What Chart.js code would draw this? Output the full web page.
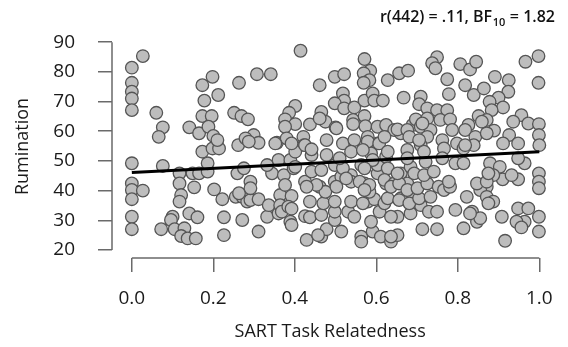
<!DOCTYPE html>
<html>
<head>
<meta charset="utf-8">
<script src="https://cdn.jsdelivr.net/npm/chart.js@4.4.0/dist/chart.umd.min.js"></script>
<style>
html,body{margin:0;padding:0;background:#fff;}
#c{display:block;}
</style>
</head>
<body>
<canvas id="c" width="568" height="347"></canvas>
<script>
// SART task relatedness (x) and rumination (y) for each participant
const relatedness = [
 0,0,0,0,0,0.027,0,0,0,0.027,0,0,0,
 0.076,0.117,0.117,0.153,0.121,0.117,0.141,0.161,0.1,0.096,0.072,0.105,0.129,0.121,0.137,0.157,0.149,0.165,0.186,0.186,0.173,0.198,0.214,0.202,0.222,0.226,0.226,0.255,0.271,0.271,0.259,0.261,0.283,0.06,0.076,0.066,0.141,0.165,0.173,0.198,0.178,0.212,0.173,0.196,0.188,0.2,0.21,0.251,0.263,0.269,0.275,0.263,
 0.414,0.307,0.341,0.461,0.498,0.521,0.571,0.585,0.569,0.583,0.569,0.628,0.518,0.521,0.498,0.521,0.546,0.571,0.591,0.595,0.616,0.401,0.386,0.376,0.401,0.376,0.437,0.465,0.475,0.461,0.5,0.543,0.571,0.573,0.603,0.624,0.285,0.299,0.279,0.311,0.356,0.38,0.421,0.423,0.478,0.518,0.546,0.579,0.603,0.287,0.352,
 0.311,0.429,0.465,0.478,0.514,0.563,0.563,0.591,0.611,0.587,0.332,0.36,0.389,0.392,0.425,0.437,0.465,0.498,0.498,0.531,0.546,0.608,0.437,0.47,0.498,0.538,0.579,0.595,0.62,0.291,0.311,0.336,0.364,0.392,0.364,0.368,0.384,0.291,0.291,0.344,0.373,0.376,0.425,0.441,0.461,0.475,0.498,0.514,0.538,0.538,0.571,0.583,0.603,0.624,0.332,0.36,0.389,0.401,0.425,0.397,0.441,0.478,0.498,0.518,0.538,0.563,0.587,0.603,0.624,0.579,0.607,
 0.502,0.543,0.644,0.672,0.689,0.62,0.66,0.392,0.441,0.567,0.628,0.676,0.51,0.591,0.401,0.465,0.571,0.628,0.66,0.684,0.453,0.526,0.559,0.583,0.62,0.644,0.676,
 0.429,0.502,0.571,0.628,0.66,0.684,0.567,0.392,0.652,0.457,0.636,0.652,
 0.749,0.737,0.745,0.806,0.83,0.845,0.966,0.998,0.998,0.656,0.678,0.667,0.774,0.778,0.818,0.839,0.864,0.891,0.925,0.924,0.9,0.878,0.911,0.883,0.709,0.705,0.725,0.749,0.774,0.697,0.725,0.757,0.781,0.826,0.851,0.871,0.956,0.936,0.973,0.999,0.999,0.652,0.676,0.709,0.733,0.786,0.818,0.843,0.889,0.926,0.681,0.725,0.762,0.798,0.839,0.911,0.948,0.709,
 1.0,0.964,0.948,0.879,0.903,0.91,0.948,0.999,0.999,0.999,0.887,0.871,0.855,0.871,0.887,0.822,0.794,0.835,0.847,0.855,0.814,0.908,0.916,0.948,0.973,0.964,0.944,0.956,0.999,0.999,0.713,0.749,0.636,0.636,0.684,0.709,0.729,0.749,0.656,0.681,0.705,0.733,0.636,0.656,0.676,0.701,0.725,0.753,0.766,0.781,0.652,0.693,0.717,0.741,0.676,0.721,0.794,0.814,0.717,0.766,0.814,
 0.713,0.859,0.705,0.818,0.871,0.762,0.778,0.847,0.871,0.875,0.932,0.83,0.875
];
const rumination = [
 81.4,76.3,73.3,71,67.1,85.3,49.2,42.4,40.2,40,37.1,31.2,27,
 48.3,45.8,42.4,41.1,38.5,36.3,32.3,31,31.2,30.1,27,27,27.3,24.7,23.9,23.9,45.8,45.8,46.4,49.2,53.1,54.2,54.2,40.4,37.1,31,25,37.9,37.9,30.1,45.8,55.3,36.3,66.2,61.3,58.1,61.3,59.3,75.5,78.3,70.3,72.2,65.1,65.1,61.5,58.4,57,66.2,76.3,65.1,47.5,39.1,
 87.1,79.2,79.2,75.5,78.3,79.2,84.3,80.4,79.5,77.2,76.3,77.2,72.7,70.3,69.4,67.7,68,70.3,72.7,70.3,70.3,68.5,66.2,64,62.4,61.5,62.3,66.5,63.2,64.3,61.3,63.8,65.1,61.7,61.5,62.1,64,58.7,57.6,56.1,56.1,57.6,58.1,55.3,57,55.9,57,58.1,55.9,56.5,55.9,
 26.2,23.4,24.5,27,26.2,24.5,22.8,26.2,24.5,29.5,31.2,32.3,29.5,28.4,31.4,31,31.8,30.1,32.9,32.9,31.2,32.9,36.3,35.7,36.3,36.3,36.3,37.1,35.7,36.8,37.1,35.1,38.5,38.2,35.1,32.9,34.6,43,40.8,45.8,45.2,41.9,43,46.4,41.3,39.6,43,44.7,45.2,43,42.4,39.6,45.8,42.4,48.6,50.3,50.3,53.1,55.3,47.5,52,52,48.6,47.5,53.1,48.6,52.5,48.6,51.4,56.5,55.9,
 61,62.4,60.4,59.8,62.1,58.1,59.3,55.9,53.9,53.7,53.1,53.7,50.9,50.3,48,46.9,47.5,47.5,45.8,48,41.9,44.1,43,41.9,43.6,42.4,42.4,
 41.3,41.3,40.2,37.4,37.4,39.6,35.7,33.9,31.2,25,22.8,25,
 84.9,82.9,81.2,82.6,80.8,83.4,83.4,85.3,76.3,79.5,80.4,71.3,77.5,72.5,75.5,72.2,74.4,78.3,77.2,73.3,71.3,69.9,68,67.1,71.6,69.1,67.7,67.1,67.1,64,64.3,63.8,64,62.1,65.1,63.8,65.4,63.2,62.6,62.4,58.7,60.6,60.4,61.5,60.4,60.4,60.4,58.1,60.2,58.7,58.1,58.1,57,55.9,55.3,55.9,55.9,55.3,
 55.3,49.2,50.9,49.2,48,43.8,43.8,45.8,43,40.8,45.2,41.3,40.2,37.9,36.3,37.9,33.5,32.9,29.5,30.7,27.3,31.2,23.1,34,34,29.5,29.5,27.6,31.2,26.2,27,27,24.5,31.2,32.3,35.1,32.9,32.9,36.8,35.7,37.4,37.9,41.3,42.4,40.2,40.8,42.4,41.3,40.2,41.3,45.8,45.8,45.2,46.4,50.9,49.7,49.2,49.2,53.1,54.2,54.2,
 62.6,63.2,57,55.3,59.3,50.9,43,42.4,43,45.8,45.2,32.3,35.7
];
// Regression line end points
const fitX = [0, 1];
const fitY = [46.1, 53.1];
// Axis ticks
const xTicks = [0, 0.2, 0.4, 0.6, 0.8, 1.0];
const xTickLabels = ['0.0', '0.2', '0.4', '0.6', '0.8', '1.0'];
const yTicks = [20, 30, 40, 50, 60, 70, 80, 90];
const yTickLabels = ['20', '30', '40', '50', '60', '70', '80', '90'];
const statText = { pre: 'r(442) = .11, BF', sub: '10', post: ' = 1.82' };

const FONT = '"Open Sans", "Liberation Sans", sans-serif';
const AXIS_COLOR = '#6a6a6a';

const points = relatedness.map((x, i) => ({ x: x, y: rumination[i] }));
const fitLine = fitX.map((x, i) => ({ x: x, y: fitY[i] }));

const axisLines = {
  id: 'axisLines',
  afterDraw(chart) {
    const ctx = chart.ctx;
    const xs = chart.scales.x, ys = chart.scales.y;
    ctx.save();
    ctx.strokeStyle = AXIS_COLOR;
    ctx.lineWidth = 1.5;
    ctx.beginPath();
    const yb = chart.chartArea.bottom;
    ctx.moveTo(xs.getPixelForValue(xTicks[0]), yb);
    ctx.lineTo(xs.getPixelForValue(xTicks[xTicks.length - 1]), yb);
    const xl = chart.chartArea.left;
    ctx.moveTo(xl, ys.getPixelForValue(yTicks[0]));
    ctx.lineTo(xl, ys.getPixelForValue(yTicks[yTicks.length - 1]));
    ctx.stroke();
    // statistics text, top right
    ctx.fillStyle = '#111';
    ctx.textBaseline = 'alphabetic';
    const big = '600 16px ' + FONT, small = '600 11px ' + FONT;
    ctx.font = big;
    const w1 = ctx.measureText(statText.pre).width;
    const w3 = ctx.measureText(statText.post).width;
    ctx.font = small;
    const w2 = ctx.measureText(statText.sub).width;
    const right = 554, base = 22;
    let x0 = right - (w1 + w2 + w3);
    ctx.font = big;
    ctx.fillText(statText.pre, x0, base);
    ctx.font = small;
    ctx.fillText(statText.sub, x0 + w1 + 0.5, base + 4);
    ctx.font = big;
    ctx.fillText(statText.post, x0 + w1 + w2 + 1, base);
    ctx.restore();
  }
};

new Chart(document.getElementById('c'), {
  data: {
    datasets: [
      {
        type: 'line',
        data: fitLine,
        borderColor: '#000',
        borderWidth: 3,
        pointRadius: 0,
        fill: false,
        order: 0
      },
      {
        type: 'scatter',
        data: points,
        backgroundColor: '#bdbdbd',
        borderColor: '#555555',
        borderWidth: 1.3,
        pointRadius: 6.3,
        order: 1
      }
    ]
  },
  options: {
    responsive: false,
    animation: false,
    devicePixelRatio: 1,
    layout: { padding: { top: 35, right: 16, left: 0, bottom: 0 } },
    plugins: { legend: { display: false }, tooltip: { enabled: false }, title: { display: false } },
    scales: {
      x: {
        type: 'linear',
        min: -0.0487,
        max: 1.0219,
        afterBuildTicks: (s) => { s.ticks = xTicks.map(v => ({ value: v })); },
        afterFit: (s) => { s.height = 89; },
        border: { display: false },
        grid: { drawOnChartArea: false, drawTicks: true, tickLength: 14, color: AXIS_COLOR, lineWidth: 1.5 },
        ticks: {
          padding: 15,
          color: '#1a1a1a',
          font: { family: FONT, size: 19 },
          callback: (v) => { const i = xTicks.indexOf(v); return i >= 0 ? xTickLabels[i] : ''; },
          maxRotation: 0
        },
        title: { display: true, text: 'SART Task Relatedness', color: '#1a1a1a', font: { family: FONT, size: 18 }, padding: { top: 0, bottom: 4 } }
      },
      y: {
        type: 'linear',
        min: 17.3,
        max: 92.4,
        afterBuildTicks: (s) => { s.ticks = yTicks.map(v => ({ value: v })); },
        afterFit: (s) => { s.width = 112; },
        border: { display: false },
        grid: { drawOnChartArea: false, drawTicks: true, tickLength: 14, color: AXIS_COLOR, lineWidth: 1.5 },
        ticks: {
          padding: 23,
          color: '#1a1a1a',
          font: { family: FONT, size: 19 },
          callback: (v) => { const i = yTicks.indexOf(v); return i >= 0 ? yTickLabels[i] : ''; }
        },
        title: { display: true, text: 'Rumination', color: '#1a1a1a', font: { family: FONT, size: 18 }, padding: { top: 12, bottom: 0 } }
      }
    }
  },
  plugins: [axisLines]
});
</script>
</body>
</html>
